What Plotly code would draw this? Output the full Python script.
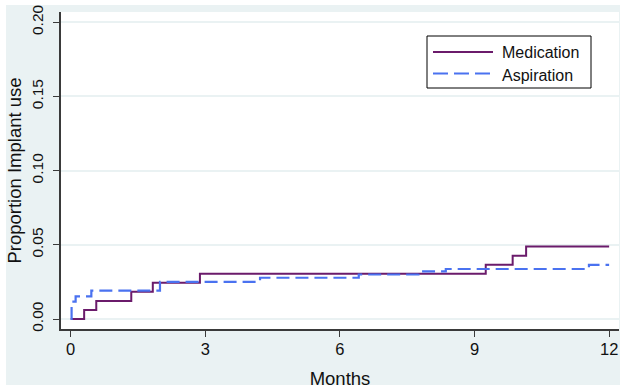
import plotly.graph_objects as go

# ---- data ----
med_months = [0, 0.30, 0.57, 1.35, 1.83, 2.88, 9.25, 9.85, 10.15, 12.0]
med_prop = [0, 0.0061, 0.0122, 0.0183, 0.0244, 0.0305, 0.0366, 0.0427, 0.0488, 0.0488]

asp_months = [0, 0.02, 0.11, 0.46, 1.99, 4.22, 6.42, 7.75, 8.36, 11.55, 12.0]
asp_prop = [0, 0.0117, 0.0153, 0.0191, 0.0250, 0.0278, 0.0300, 0.0321, 0.0337, 0.0365, 0.0365]

x_ticks = [0, 3, 6, 9, 12]
y_ticks = [0.00, 0.05, 0.10, 0.15, 0.20]
y_ticklabels = ["0.00", "0.05", "0.10", "0.15", "0.20"]

series_names = ["Medication", "Aspiration"]
MED_COLOR = "#6B1B6B"
ASP_COLOR = "#4A72F0"
BG = "#EAF2F3"
AXC = "#3a3a3a"
FONT = "Liberation Sans, Arial, sans-serif"

fig = go.Figure()
fig.add_trace(go.Scatter(x=med_months, y=med_prop, mode="lines", line_shape="hv",
                         name=series_names[0], line=dict(color=MED_COLOR, width=2),
                         showlegend=False))
fig.add_trace(go.Scatter(x=asp_months, y=asp_prop, mode="lines", line_shape="hv",
                         name=series_names[1],
                         line=dict(color=ASP_COLOR, width=2.2, dash="13px,6px"),
                         showlegend=False))

W, H = 626, 391
L, R, T, B = 61, 7, 12, 62
pw, ph = W - L - R, H - T - B

def px(xp):
    return (xp - L) / pw

def py(yp):
    return (H - B - yp) / ph

shapes = [
    # outer grey panel
    dict(type="rect", xref="paper", yref="paper", x0=px(6), x1=px(620), y0=py(385), y1=py(5),
         fillcolor=BG, line=dict(width=0), layer="below"),
    # white plot region
    dict(type="rect", xref="paper", yref="paper", x0=0, x1=1, y0=0, y1=1,
         fillcolor="white", line=dict(width=0), layer="below"),
    # legend box
    dict(type="rect", xref="paper", yref="paper", x0=px(427), x1=px(591), y0=py(88), y1=py(36),
         fillcolor="white", line=dict(color="black", width=1), layer="above"),
    dict(type="line", xref="paper", yref="paper", x0=px(433), x1=px(493), y0=py(52), y1=py(52),
         line=dict(color=MED_COLOR, width=2), layer="above"),
    dict(type="line", xref="paper", yref="paper", x0=px(433), x1=px(493), y0=py(73.5), y1=py(73.5),
         line=dict(color=ASP_COLOR, width=2, dash="15px,6px"), layer="above"),
]

annotations = [
    dict(text=series_names[0], xref="paper", yref="paper", x=px(500), y=py(53),
         xanchor="left", yanchor="middle", showarrow=False,
         font=dict(family=FONT, size=16, color="#111")),
    dict(text=series_names[1], xref="paper", yref="paper", x=px(500), y=py(75),
         xanchor="left", yanchor="middle", showarrow=False,
         font=dict(family=FONT, size=16, color="#111")),
]

fig.update_layout(
    template="none",
    width=W, height=H,
    margin=dict(l=L, r=R, t=T, b=B, pad=0, autoexpand=False),
    paper_bgcolor="white", plot_bgcolor="white",
    font=dict(family=FONT, size=15, color="#111"),
    shapes=shapes, annotations=annotations,
    showlegend=False,
    xaxis=dict(range=[-0.216, 12.22], tickmode="array", tickvals=x_ticks, automargin=False,
               showgrid=False, zeroline=False, showline=True, linecolor=AXC, linewidth=1.5,
               ticks="outside", ticklen=6, tickcolor=AXC, tickwidth=1,
               tickfont=dict(size=16.5), ticklabelstandoff=-2,
               title=dict(text="Months", font=dict(size=18.5), standoff=16)),
    yaxis=dict(range=[-0.00674, 0.2069], tickmode="array", tickvals=y_ticks, automargin=False,
               ticktext=y_ticklabels, tickangle=-90,
               showgrid=True, gridcolor=BG, gridwidth=1.5, zeroline=False,
               showline=True, linecolor=AXC, linewidth=1.5,
               ticks="outside", ticklen=6, tickcolor=AXC, tickwidth=1,
               tickfont=dict(size=15.5), ticklabelstandoff=4,
               title=dict(text="Proportion Implant use", font=dict(size=18.5), standoff=3)),
)

fig.write_html("out.html", config={"displayModeBar": False},
               post_script="document.body.style.margin='0';")
